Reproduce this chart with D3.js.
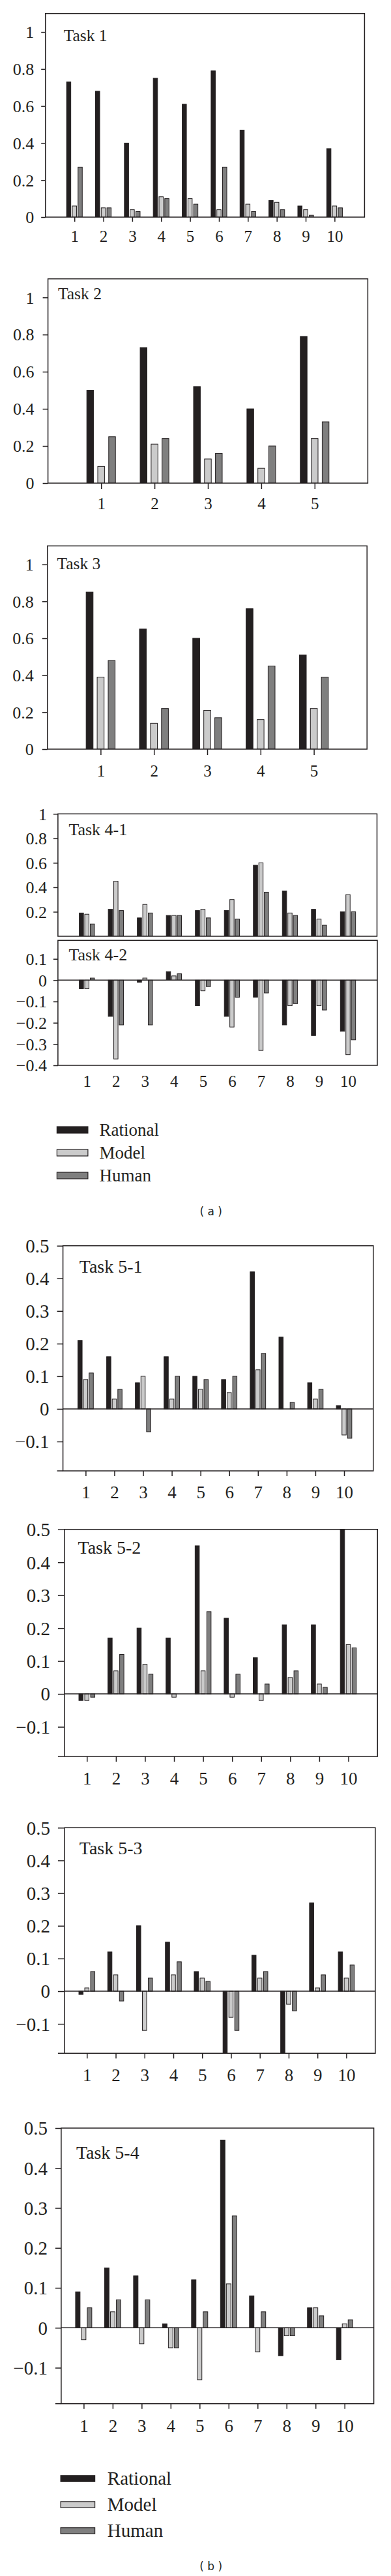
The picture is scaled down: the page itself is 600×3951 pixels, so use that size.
<!DOCTYPE html>
<html>
<head>
<meta charset="utf-8">
<script src="https://cdn.jsdelivr.net/npm/d3@7"></script>
<style>
  body { margin: 0; background: #fff; }
  svg { display: block; }
  text { font-family: "Liberation Serif", "Times New Roman", serif; fill: #231f20; }
  .cap { font-family: "DejaVu Sans", Verdana, sans-serif; }
</style>
</head>
<body>
<svg id="chart" width="600" height="3951"></svg>
<script>
'use strict';

const seriesNames = ['Rational', 'Model', 'Human'];
const cats10 = [1, 2, 3, 4, 5, 6, 7, 8, 9, 10];
const cats5 = [1, 2, 3, 4, 5];

const ticksA = [0, 0.2, 0.4, 0.6, 0.8, 1];
const ticks41 = [0.2, 0.4, 0.6, 0.8, 1];
const ticks42 = [-0.4, -0.3, -0.2, -0.1, 0, 0.1];
const ticks5 = [-0.1, 0, 0.1, 0.2, 0.3, 0.4, 0.5];

const t1Rational = [0.73, 0.68, 0.40, 0.75, 0.61, 0.79, 0.47, 0.09, 0.06, 0.37];
const t1Model    = [0.06, 0.05, 0.04, 0.11, 0.10, 0.04, 0.07, 0.08, 0.04, 0.06];
const t1Human    = [0.27, 0.05, 0.03, 0.10, 0.07, 0.27, 0.03, 0.04, 0.01, 0.05];

const t2Rational = [0.50, 0.73, 0.52, 0.40, 0.79];
const t2Model    = [0.09, 0.21, 0.13, 0.08, 0.24];
const t2Human    = [0.25, 0.24, 0.16, 0.20, 0.33];

const t3Rational = [0.85, 0.65, 0.60, 0.76, 0.51];
const t3Model    = [0.39, 0.14, 0.21, 0.16, 0.22];
const t3Human    = [0.48, 0.22, 0.17, 0.45, 0.39];

const t41Rational = [0.19, 0.22, 0.15, 0.17, 0.21, 0.21, 0.58, 0.37, 0.22, 0.20];
const t41Model    = [0.18, 0.45, 0.26, 0.17, 0.22, 0.30, 0.60, 0.19, 0.14, 0.34];
const t41Human    = [0.10, 0.21, 0.19, 0.17, 0.15, 0.14, 0.36, 0.17, 0.09, 0.20];

const t42Rational = [-0.04, -0.17, -0.01, 0.04, -0.12, -0.17, -0.08, -0.21, -0.26, -0.24];
const t42Model    = [-0.04, -0.37, 0.01, 0.02, -0.05, -0.22, -0.33, -0.12, -0.12, -0.35];
const t42Human    = [0.01, -0.21, -0.21, 0.03, -0.03, -0.08, -0.06, -0.11, -0.14, -0.28];

const t51Rational = [0.21, 0.16, 0.08, 0.16, 0.10, 0.09, 0.42, 0.22, 0.08, 0.01];
const t51Model    = [0.09, 0.03, 0.10, 0.03, 0.06, 0.05, 0.12, 0, 0.03, -0.08];
const t51Human    = [0.11, 0.06, -0.07, 0.10, 0.09, 0.10, 0.17, 0.02, 0.06, -0.09];

const t52Rational = [-0.02, 0.17, 0.20, 0.17, 0.45, 0.23, 0.11, 0.21, 0.21, 0.50];
const t52Model    = [-0.02, 0.07, 0.09, -0.01, 0.07, -0.01, -0.02, 0.05, 0.03, 0.15];
const t52Human    = [-0.01, 0.12, 0.06, 0, 0.25, 0.06, 0.03, 0.07, 0.02, 0.14];

const t53Rational = [-0.01, 0.12, 0.20, 0.15, 0.06, -0.20, 0.11, -0.20, 0.27, 0.12];
const t53Model    = [0.01, 0.05, -0.12, 0.05, 0.04, -0.08, 0.04, -0.04, 0.01, 0.04];
const t53Human    = [0.06, -0.03, 0.04, 0.09, 0.03, -0.12, 0.06, -0.06, 0.05, 0.08];

const t54Rational = [0.09, 0.15, 0.13, 0.01, 0.12, 0.47, 0.08, -0.07, 0.05, -0.08];
const t54Model    = [-0.03, 0.04, -0.04, -0.05, -0.13, 0.11, -0.06, -0.02, 0.05, 0.01];
const t54Human    = [0.05, 0.07, 0.07, -0.05, 0.04, 0.28, 0.04, -0.02, 0.03, 0.02];

const ink = '#231f20';
const fillOf = { Rational: '#231f20', Model: '#cbcbcb', Human: '#7f7f7f' };

// layout of each panel (pixels)
const panels = [
  { title: 'Task 1', cats: cats10, values: [t1Rational, t1Model, t1Human],
    left: 69.7, right: 559.4, top: 20.7, bottom: 333, yDomain: [0, 1.1], yTicks: ticksA,
    x0: 114.2, x1: 513.4, barW: 6.5, pitch: 8.8, titleX: 97.7, titleY: 62.7,
    yTickLen: 6.5, yPad: 11, yFont: 26, xFont: 25, titleFont: 25.5,
    xTickLen: 7, xLabelY: 38 },
  { title: 'Task 2', cats: cats5, values: [t2Rational, t2Model, t2Human],
    left: 73.6, right: 564.4, top: 427.7, bottom: 741, yDomain: [0, 1.1], yTicks: ticksA,
    x0: 155.2, x1: 482.8, barW: 10.4, pitch: 16.8, titleX: 89, titleY: 459,
    yTickLen: 8, yPad: 13, yFont: 26, xFont: 25, titleFont: 25.5,
    xTickLen: 9, xLabelY: 40 },
  { title: 'Task 3', cats: cats5, values: [t3Rational, t3Model, t3Human],
    left: 72.8, right: 563.2, top: 837.3, bottom: 1149, yDomain: [0, 1.1], yTicks: ticksA,
    x0: 154.4, x1: 481.6, barW: 10.6, pitch: 16.9, titleX: 87.4, titleY: 873.3,
    yTickLen: 8, yPad: 13, yFont: 26, xFont: 25, titleFont: 25.5,
    xTickLen: 9, xLabelY: 42 },
  { title: 'Task 4-1', cats: cats10, values: [t41Rational, t41Model, t41Human],
    left: 88.9, right: 578.5, top: 1248.3, bottom: 1436, yDomain: [0, 1], yTicks: ticks41,
    x0: 133.3, x1: 534, barW: 6.5, pitch: 8.4, titleX: 105.4, titleY: 1280.7,
    yTickLen: 7, yPad: 10, yFont: 26, xFont: 25, titleFont: 26,
    noXAxis: true },
  { title: 'Task 4-2', cats: cats10, values: [t42Rational, t42Model, t42Human],
    left: 88.9, right: 579, top: 1442.3, bottom: 1634, yDomain: [-0.4, 0.187], yTicks: ticks42,
    x0: 133.3, x1: 534, barW: 6.5, pitch: 8.4, titleX: 105.4, titleY: 1472.7,
    yTickLen: 7, yPad: 10, yFont: 26, xFont: 25, titleFont: 26,
    xTickLen: 0, xLabelY: 33 },
  { title: 'Task 5-1', cats: cats10, values: [t51Rational, t51Model, t51Human],
    left: 96.6, right: 572.8, top: 1910.7, bottom: 2256, yDomain: [-0.19, 0.5], yTicks: ticks5,
    x0: 131.4, x1: 528, barW: 6.5, pitch: 8.6, titleX: 121.8, titleY: 1951.7,
    yTickLen: 9, yPad: 12, yFont: 29, xFont: 27, titleFont: 28,
    xTickLen: 8, xLabelY: 42, bottomExt: true },
  { title: 'Task 5-2', cats: cats10, values: [t52Rational, t52Model, t52Human],
    left: 98.9, right: 579.3, top: 2345.7, bottom: 2694, yDomain: [-0.19, 0.5], yTicks: ticks5,
    x0: 133.3, x1: 534.5, barW: 6.5, pitch: 9, titleX: 119.5, titleY: 2383.3,
    yTickLen: 10, yPad: 12, yFont: 29, xFont: 27, titleFont: 28,
    xTickLen: 8, xLabelY: 43, bottomExt: true },
  { title: 'Task 5-3', cats: cats10, values: [t53Rational, t53Model, t53Human],
    left: 98.9, right: 575.9, top: 2803.3, bottom: 3149.3, yDomain: [-0.19, 0.5], yTicks: ticks5,
    x0: 133.3, x1: 531.4, barW: 6.5, pitch: 9, titleX: 121.8, titleY: 2844,
    yTickLen: 10, yPad: 12, yFont: 29, xFont: 27, titleFont: 28,
    xTickLen: 8, xLabelY: 43, bottomExt: true },
  { title: 'Task 5-4', cats: cats10, values: [t54Rational, t54Model, t54Human],
    left: 93.9, right: 573.6, top: 3264, bottom: 3686.7, yDomain: [-0.19, 0.5], yTicks: ticks5,
    x0: 128.4, x1: 528.7, barW: 6.9, pitch: 9, titleX: 116.9, titleY: 3310.7,
    yTickLen: 9, yPad: 12, yFont: 29, xFont: 27, titleFont: 28,
    xTickLen: 8, xLabelY: 43, bottomExt: true }
];

const svg = d3.select('#chart');
svg.append('rect').attr('width', 600).attr('height', 3951).attr('fill', '#fff');

const fmt = d3.format('~g');

function DrawPanel(p, idx) {
  const g = svg.append('g');
  const y = d3.scaleLinear().domain(p.yDomain).range([p.bottom, p.top]);
  const x = d3.scalePoint().domain(p.cats).range([p.x0, p.x1]);
  const pad = 1 - p.barW / p.pitch;
  const inner = d3.scaleBand().domain(seriesNames)
      .range([-1.5 * p.pitch, 1.5 * p.pitch])
      .paddingInner(pad).paddingOuter(pad / 2);

  const clipId = 'clip' + idx;
  g.append('clipPath').attr('id', clipId)
    .append('rect')
      .attr('x', p.left).attr('y', p.top)
      .attr('width', p.right - p.left).attr('height', p.bottom - p.top);

  const bars = [];
  p.cats.forEach(function(c, i) {
    seriesNames.forEach(function(s, j) {
      const v = p.values[j][i];
      if (v !== 0) bars.push({ c: c, s: s, v: v });
    });
  });

  g.append('g').attr('clip-path', 'url(#' + clipId + ')')
    .selectAll('rect')
      .data(bars)
    .enter().append('rect')
      .attr('x', function(d) { return x(d.c) + inner(d.s); })
      .attr('width', inner.bandwidth())
      .attr('y', function(d) { return y(Math.max(d.v, 0)); })
      .attr('height', function(d) { return Math.abs(y(d.v) - y(0)); })
      .attr('fill', function(d) { return fillOf[d.s]; })
      .attr('stroke', ink)
      .attr('stroke-width', 1);

  // frame
  g.append('rect')
    .attr('x', p.left).attr('y', p.top)
    .attr('width', p.right - p.left).attr('height', p.bottom - p.top)
    .attr('fill', 'none').attr('stroke', ink).attr('stroke-width', 1.5);

  // zero line
  if (p.yDomain[0] < 0) {
    g.append('line')
      .attr('x1', p.left).attr('x2', p.right)
      .attr('y1', y(0)).attr('y2', y(0))
      .attr('stroke', ink).attr('stroke-width', 1.5);
  }
  if (p.bottomExt) {
    g.append('line')
      .attr('x1', p.left - p.yTickLen).attr('x2', p.left)
      .attr('y1', p.bottom).attr('y2', p.bottom)
      .attr('stroke', ink).attr('stroke-width', 1.5);
  }

  const yAxis = g.append('g')
      .attr('transform', 'translate(' + p.left + ',0)')
      .call(d3.axisLeft(y).tickValues(p.yTicks).tickSize(p.yTickLen)
        .tickPadding(p.yPad).tickFormat(fmt));
  yAxis.select('.domain').remove();
  yAxis.selectAll('line').attr('stroke', ink).attr('stroke-width', 1.5);
  yAxis.selectAll('text').attr('font-size', p.yFont).attr('dy', '0.34em');

  if (!p.noXAxis) {
    const xAxis = g.append('g')
        .attr('transform', 'translate(0,' + p.bottom + ')')
        .call(d3.axisBottom(x).tickSize(p.xTickLen));
    xAxis.select('.domain').remove();
    xAxis.selectAll('line').attr('stroke', ink).attr('stroke-width', 1.5);
    xAxis.selectAll('text')
      .attr('font-size', p.xFont)
      .attr('y', p.xLabelY)
      .attr('dy', 0);
  }

  g.append('text')
    .attr('x', p.titleX).attr('y', p.titleY)
    .attr('font-size', p.titleFont)
    .text(p.title);
}

panels.forEach(DrawPanel);

function DrawLegend(x0, rowYs, swW, swH, textX, fontSize, caption, capY) {
  const g = svg.append('g');
  seriesNames.forEach(function(s, i) {
    g.append('rect')
      .attr('x', x0).attr('y', rowYs[i] - swH / 2)
      .attr('width', swW).attr('height', swH)
      .attr('fill', fillOf[s]).attr('stroke', ink).attr('stroke-width', 1.2);
    g.append('text')
      .attr('x', textX).attr('y', rowYs[i] + fontSize * 0.34)
      .attr('font-size', fontSize)
      .text(s);
  });
  g.append('text')
    .attr('class', 'cap')
    .attr('x', 323.7).attr('y', capY)
    .attr('text-anchor', 'middle')
    .attr('font-size', 17)
    .text(caption);
}

DrawLegend(87.4, [1733, 1768, 1803], 47.5, 10, 152.5, 27, '( a )', 1864);
DrawLegend(93.1, [3801.5, 3841.5, 3881.5], 52.5, 9.3, 164.8, 29, '( b )', 3942);

</script>
</body>
</html>
